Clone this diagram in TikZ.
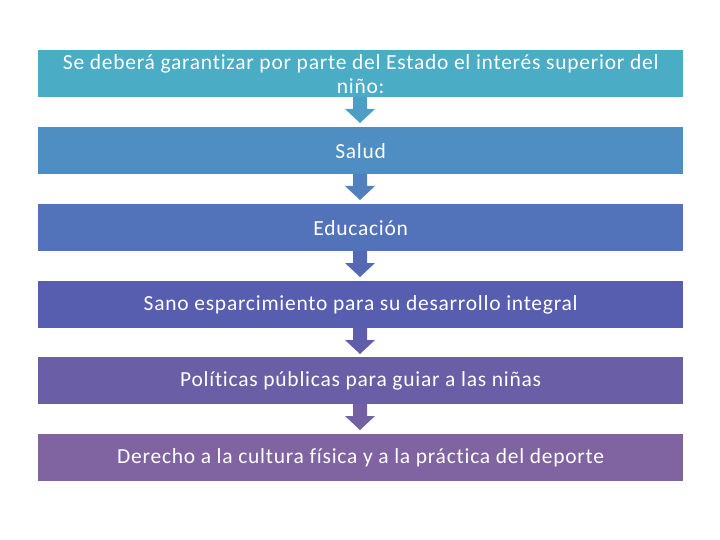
\documentclass[tikz,border=0pt]{standalone}
\usepackage{fontspec}
\setmainfont{Carlito}[Ligatures={NoCommon},LetterSpace=3.5]
\definecolor{c1}{RGB}{75,172,198}
\definecolor{c2}{RGB}{78,142,194}
\definecolor{c3}{RGB}{82,114,186}
\definecolor{c4}{RGB}{88,94,175}
\definecolor{c5}{RGB}{106,94,167}
\definecolor{c6}{RGB}{128,100,162}
\definecolor{a1}{RGB}{76,158,196}
\definecolor{a2}{RGB}{80,128,190}
\definecolor{a3}{RGB}{85,104,180}
\definecolor{a4}{RGB}{96,94,171}
\definecolor{a5}{RGB}{116,97,164}
\begin{document}
\begin{tikzpicture}[x=1pt,y=-1pt,
  boxst/.style={draw=none,minimum width=645pt,minimum height=47pt,inner sep=0pt,text=white,font=\fontsize{21.5}{24}\selectfont,align=center,anchor=north west}]
\useasboundingbox (0,0) rectangle (720,540);
\node[boxst,fill=c1] (b1) at (38,50) {Se deberá garantizar por parte del Estado el interés superior del\\niño:};
\node[boxst,fill=c2] (b2) at (38,127) {Salud};
\node[boxst,fill=c3] (b3) at (38,204) {Educación};
\node[boxst,fill=c4] (b4) at (38,281) {Sano esparcimiento para su desarrollo integral};
\node[boxst,fill=c5] (b5) at (38,357) {Políticas públicas para guiar a las niñas};
\node[boxst,fill=c6] (b6) at (38,434) {Derecho a la cultura física y a la práctica del deporte};
\fill[a1] (353,97) -- (367,97) -- (367,109) -- (375,109) -- (360,123) -- (345,109) -- (353,109) -- cycle;
\fill[a2] (353,174) -- (367,174) -- (367,186) -- (375,186) -- (360,200) -- (345,186) -- (353,186) -- cycle;
\fill[a3] (353,251) -- (367,251) -- (367,263) -- (375,263) -- (360,277) -- (345,263) -- (353,263) -- cycle;
\fill[a4] (353,328) -- (367,328) -- (367,340) -- (375,340) -- (360,354) -- (345,340) -- (353,340) -- cycle;
\fill[a5] (353,404) -- (367,404) -- (367,416) -- (375,416) -- (360,430) -- (345,416) -- (353,416) -- cycle;
\end{tikzpicture}
\end{document}
